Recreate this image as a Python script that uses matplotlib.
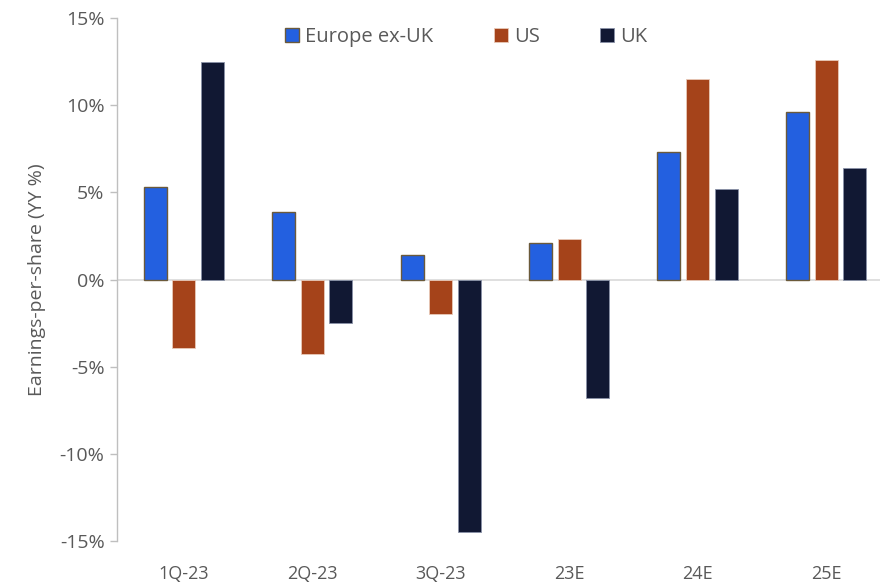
import numpy as np
import matplotlib.pyplot as plt
from matplotlib.ticker import FuncFormatter

periods = ['1Q-23', '2Q-23', '3Q-23', '23E', '24E', '25E']
europe_ex_uk = [5.3, 3.9, 1.4, 2.1, 7.3, 9.6]
us = [-3.9, -4.3, -2.0, 2.3, 11.5, 12.6]
uk = [12.5, -2.5, -14.5, -6.8, 5.2, 6.4]

plt.rcParams['font.family'] = ['Open Sans', 'DejaVu Sans']
grey_text = '#595959'

fig = plt.figure(figsize=(8.8, 5.82), dpi=100)
ax = fig.add_axes([0.133, 0.0704, 0.867, 0.8986])

x = np.arange(len(periods))
step = 0.223
width = 0.179

ax.bar(x - step, europe_ex_uk, width, color='#2360E0', edgecolor='#6B5A3A',
       linewidth=1.0, label='Europe ex-UK', zorder=3)
ax.bar(x, us, width, color='#A5431A', edgecolor='#E8C9B8',
       linewidth=0.6, label='US', zorder=3)
ax.bar(x + step, uk, width, color='#111833', edgecolor='#8A92A8',
       linewidth=0.6, label='UK', zorder=3)

ax.axhline(0, color='#D9D9D9', linewidth=1.2, zorder=2)

ax.set_xlim(-0.52, 5.42)
ax.set_ylim(-15, 15)
ax.set_yticks(np.arange(-15, 16, 5))
ax.yaxis.set_major_formatter(FuncFormatter(lambda v, p: f'{v:.0f}%'))
ax.set_xticks(x, periods)

for side in ['top', 'right', 'bottom']:
    ax.spines[side].set_visible(False)
ax.spines['left'].set_color('#BFBFBF')
ax.spines['left'].set_linewidth(1.0)
ax.tick_params(axis='y', colors='#BFBFBF', length=5, width=1.0,
               labelcolor=grey_text, labelsize=14, pad=4)
ax.tick_params(axis='x', length=0, labelcolor=grey_text, labelsize=13, pad=17)

ax.set_ylabel('Earnings-per-share (YY %)', color=grey_text, fontsize=14,
              labelpad=10)

ax.legend(loc='center', bbox_to_anchor=(0.458, 0.963), ncol=3, frameon=False,
          fontsize=14.5, labelcolor=grey_text, handlelength=0.7,
          handleheight=0.7, handletextpad=0.3, columnspacing=3.0)

fig.savefig('out.png', dpi=100)
